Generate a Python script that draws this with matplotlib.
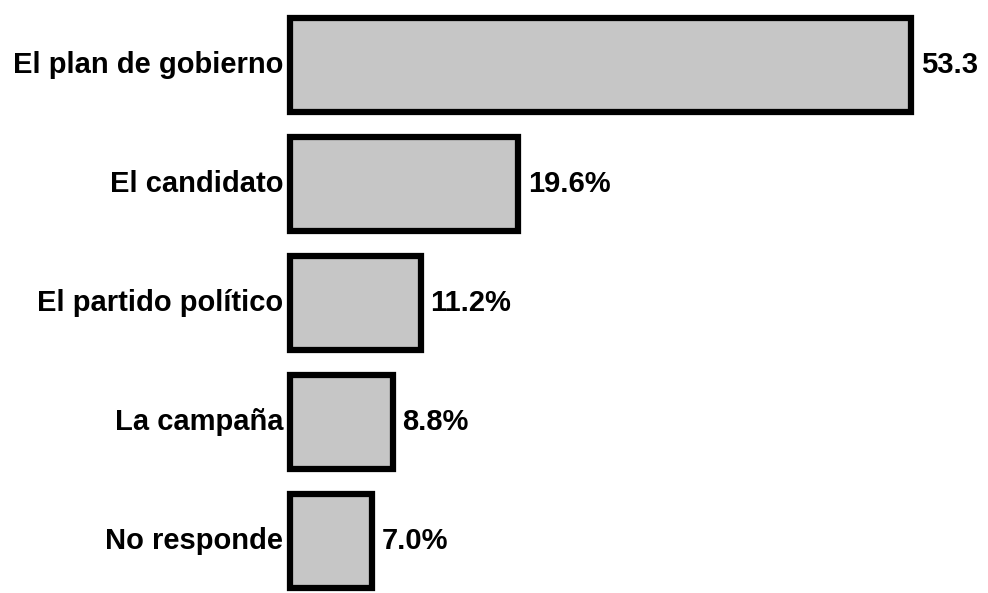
import matplotlib.pyplot as plt

categories = ['El plan de gobierno', 'El candidato', 'El partido político', 'La campaña', 'No responde']
values = [53.3, 19.6, 11.2, 8.8, 7.0]
value_labels = ['53.3', '19.6%', '11.2%', '8.8%', '7.0%']

plt.rcParams['font.family'] = ['Liberation Sans', 'DejaVu Sans']

fig = plt.figure(figsize=(9.88, 5.93), dpi=100)
ax = fig.add_axes([0, 0, 1, 1])

y = list(range(len(categories)))
ax.barh(y, values, height=0.79, color='#c6c6c6', edgecolor='black', linewidth=4.5)

for yi, cat, v, lab in zip(y, categories, values, value_labels):
    ax.annotate(cat, (0, yi), xytext=(-5, 0), textcoords='offset points',
                ha='right', va='center', fontsize=21, fontweight='bold')
    ax.annotate(lab, (v, yi), xytext=(7, 0), textcoords='offset points',
                ha='left', va='center', fontsize=21, fontweight='bold')

ax.set_xlim(-24.9, 59.9)
ax.set_ylim(4.437, -0.546)
ax.axis('off')

fig.savefig('out.png', dpi=100, facecolor='white')
